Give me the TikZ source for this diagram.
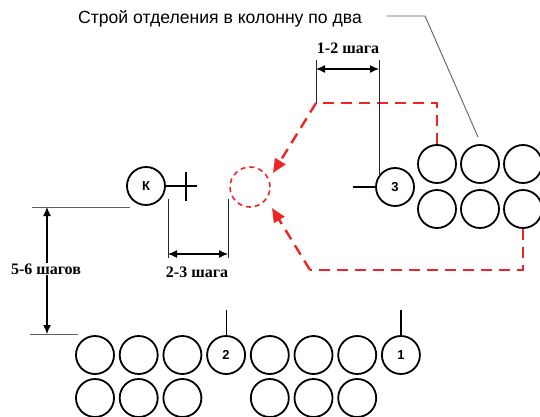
\documentclass[tikz,border=0pt]{standalone}
\usepackage{fontspec}
\setmainfont{Liberation Serif}
\setsansfont{Liberation Sans}
\definecolor{routered}{RGB}{236,38,38}
\definecolor{leadgray}{RGB}{95,95,95}
\usetikzlibrary{arrows.meta,positioning,calc}

\begin{document}
\begin{tikzpicture}[x=1pt, y=-1pt,
    man/.style={circle, draw, line width=1.8pt, minimum size=38pt, inner sep=0pt, font=\sffamily\bfseries\fontsize{13}{13}\selectfont},
    dimline/.style={line width=0.8pt, black!85},
    dimarrow/.style={line width=1.2pt, {Latex[length=9pt,width=8pt]}-{Latex[length=9pt,width=8pt]}},
    dimtext/.style={font=\bfseries\fontsize{16}{16}\selectfont},
    route/.style={routered, line width=2.4pt, dash pattern=on 11pt off 7pt},
    routetip/.style={-{Triangle[length=14pt,width=12pt]}}]
    \useasboundingbox (0,0) rectangle (540,417);

    % Title
    \node[font=\sffamily\fontsize{17.6}{17.6}\selectfont] (title) at (220,19) {Строй отделения в колонну по два};
    \coordinate (lead1) at (387,16);
    \coordinate (lead2) at (425,16);
    \coordinate (lead3) at (478,137);
    \draw[leadgray, line width=0.9pt] (lead1) -- (lead2) -- (lead3);

    % Commander and the new place
    \node[man] (K) at (146,186) {К};
    \node[circle, draw=routered, line width=1.6pt, dash pattern=on 5pt off 4pt, minimum size=40pt] (place) at (250,187) {};
    \coordinate (crossend) at (197,186);
    \coordinate (crosstop) at (186,172);
    \coordinate (crossbot) at (186,201);
    \draw[line width=1.2pt] (K.east) -- (crossend);
    \draw[line width=1.2pt] (crosstop) -- (crossbot);

    % Squad in a column of two
    \foreach \c/\x in {1/437,2/480,3/523} {
        \node[man] (r1\c) at (\x,164) {};
        \node[man] (r2\c) at (\x,209) {};
    }
    \node[man] (n3) at (395,187) {3};
    \coordinate (n3lead) at (353,187);
    \draw[line width=1.2pt] (n3lead) -- (n3.west);

    % Column
    \foreach \i in {0,...,7} {
        \pgfmathsetmacro{\xx}{95+43.7*\i}
        \node[man] (b\i) at (\xx,355) {};
    }
    \foreach \i in {0,1,2,4,5,6} {
        \pgfmathsetmacro{\xx}{95+43.7*\i}
        \node[man] (c\i) at (\xx,398) {};
    }
    \node[font=\sffamily\bfseries\fontsize{13}{13}\selectfont] (lab2) at (b3) {2};
    \node[font=\sffamily\bfseries\fontsize{13}{13}\selectfont] (lab1) at (b7) {1};
    \draw[line width=1.2pt] (b3.north) -- ++(0,-25);
    \draw[line width=1.2pt] (b7.north) -- ++(0,-25);

    % Route
    \coordinate (upcorner) at (316,103);
    \coordinate (upturn) at (437,103);
    \coordinate (lowturn) at (523,270);
    \coordinate (lowcorner) at (310,270);
    \coordinate (uptip) at (273,173);
    \coordinate (lowtip) at (272,208);
    \draw[route] (r11.north) -- (upturn) -- (upcorner);
    \draw[route, routetip] (upcorner) -- (uptip);
    \draw[route] (r23.south) -- (lowturn) -- (lowcorner);
    \draw[route, routetip] (lowcorner) -- (lowtip);

    % 1-2 steps
    \coordinate (d1a) at (316,60);
    \coordinate (d1b) at (379,60);
    \draw[dimline] (d1a) -- (upcorner);
    \draw[dimline] (d1b) -- (d1b |- n3.147);
    \draw[dimarrow] ($(d1a)+(0,9)$) -- ($(d1b)+(0,9)$);
    \node[dimtext] (t12) at (348,48) {1-2 шага};

    % 2-3 steps
    \coordinate (d2a) at (168,199);
    \coordinate (d2b) at (228,199);
    \draw[dimline] (d2a) -- ++(0,59);
    \draw[dimline] (d2b) -- ++(0,59);
    \draw[dimarrow] ($(d2a)+(0,55)$) -- ($(d2b)+(0,55)$);
    \node[dimtext] (t23) at (197,272) {2-3 шага};

    % 5-6 steps
    \coordinate (d3a) at (32,207);
    \coordinate (d3b) at (130,207);
    \coordinate (d3c) at (30,334);
    \coordinate (d3d) at (78,334);
    \draw[leadgray, line width=0.9pt] (d3a) -- (d3b);
    \draw[leadgray, line width=0.9pt] (d3c) -- (d3d);
    \draw[dimarrow] ($(d3a)+(15,0)$) -- ($(d3c)+(17,0)$);
    \node[dimtext, fill=white, inner sep=1pt] (t56) at (46,269) {5-6 шагов};
\end{tikzpicture}
\end{document}
